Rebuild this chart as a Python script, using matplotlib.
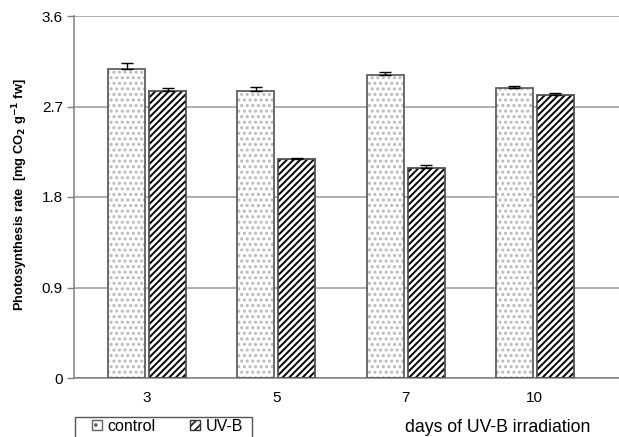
import matplotlib
matplotlib.use("Agg")
import matplotlib.pyplot as plt
from matplotlib.patches import Patch, Rectangle
import numpy as np

plt.rcParams['font.family'] = ['Liberation Sans', 'DejaVu Sans']
plt.rcParams['hatch.linewidth'] = 1.4

days = ["3", "5", "7", "10"]
control = [3.075, 2.85, 3.015, 2.885]
control_err = [0.055, 0.04, 0.03, 0.02]
uvb = [2.85, 2.18, 2.09, 2.81]
uvb_err = [0.03, 0.01, 0.03, 0.025]
yticks = [0, 0.9, 1.8, 2.7, 3.6]
ytick_labels = ["0", "0.9", "1.8", "2.7", "3.6"]

fig = plt.figure(figsize=(6.19, 4.37), dpi=100)
ax = fig.add_axes([74/619, (437-378)/437, 1-74/619, (378-16)/437])

x = np.arange(len(days))
w = 0.287
off = 0.159

# control: dotted fill
ax.bar(x - off, control, w, color='white', edgecolor='#b8b8b8', hatch='...', linewidth=0, zorder=2)
ax.bar(x - off, control, w, fill=False, edgecolor='#606060', linewidth=1.3, zorder=3)
ax.errorbar(x - off, control, yerr=[np.zeros(4), control_err], fmt='none', ecolor='black',
            elinewidth=1, capsize=4, capthick=1, zorder=4)

# UV-B: hatched
ax.bar(x + off, uvb, w, color='white', edgecolor='black', hatch='/////', linewidth=0, zorder=2)
ax.bar(x + off, uvb, w, fill=False, edgecolor='#505050', linewidth=1.3, zorder=3)
ax.errorbar(x + off, uvb, yerr=[np.zeros(4), uvb_err], fmt='none', ecolor='black',
            elinewidth=1, capsize=4, capthick=1, zorder=4)

ax.set_xlim(-0.566, 3.651)
ax.set_ylim(0, 3.6)
ax.set_yticks(yticks)
ax.set_yticklabels(ytick_labels, fontsize=11)
ax.set_xticks(x)
ax.set_xticklabels(days, fontsize=11)
ax.tick_params(axis='x', length=0, pad=9)
ax.tick_params(axis='y', length=5, width=1, color='#808080', pad=3)
ax.yaxis.grid(True, color='#9a9a9a', linewidth=1.1)
ax.set_axisbelow(True)
for s in ['top', 'right']:
    ax.spines[s].set_visible(False)
for s in ['left', 'bottom']:
    ax.spines[s].set_color('#808080')
    ax.spines[s].set_linewidth(1.1)

fig.text(0.032, (437-195)/437, r"Photosynthesis rate  [mg CO$_\mathbf{2}$ g$^\mathbf{-1}$ fw]",
         rotation=90, ha='center', va='center', fontsize=9.3, fontweight='bold')
fig.text(405/619, 1-427/437, "days of UV-B irradiation", ha='left', va='center', fontsize=12.7)

# legend frame
fig.patches.append(Rectangle((75/619, -0.06), (252-75)/619, (437-417)/437 + 0.06,
                             transform=fig.transFigure, facecolor='white',
                             edgecolor='#555555', linewidth=1))
handles = [Patch(facecolor='white', edgecolor='#606060', hatch='..', linewidth=1),
           Patch(facecolor='white', edgecolor='#333333', hatch='////', linewidth=1)]
leg = fig.legend(handles, ["control", "UV-B"], ncol=2, loc='upper left',
                 bbox_to_anchor=(92/619, 1-419/437), fontsize=11.5, frameon=False,
                 handlelength=0.6, handleheight=0.6,
                 handletextpad=0.35, columnspacing=2.2, borderpad=0, borderaxespad=0)

fig.savefig("out.png", dpi=100)
